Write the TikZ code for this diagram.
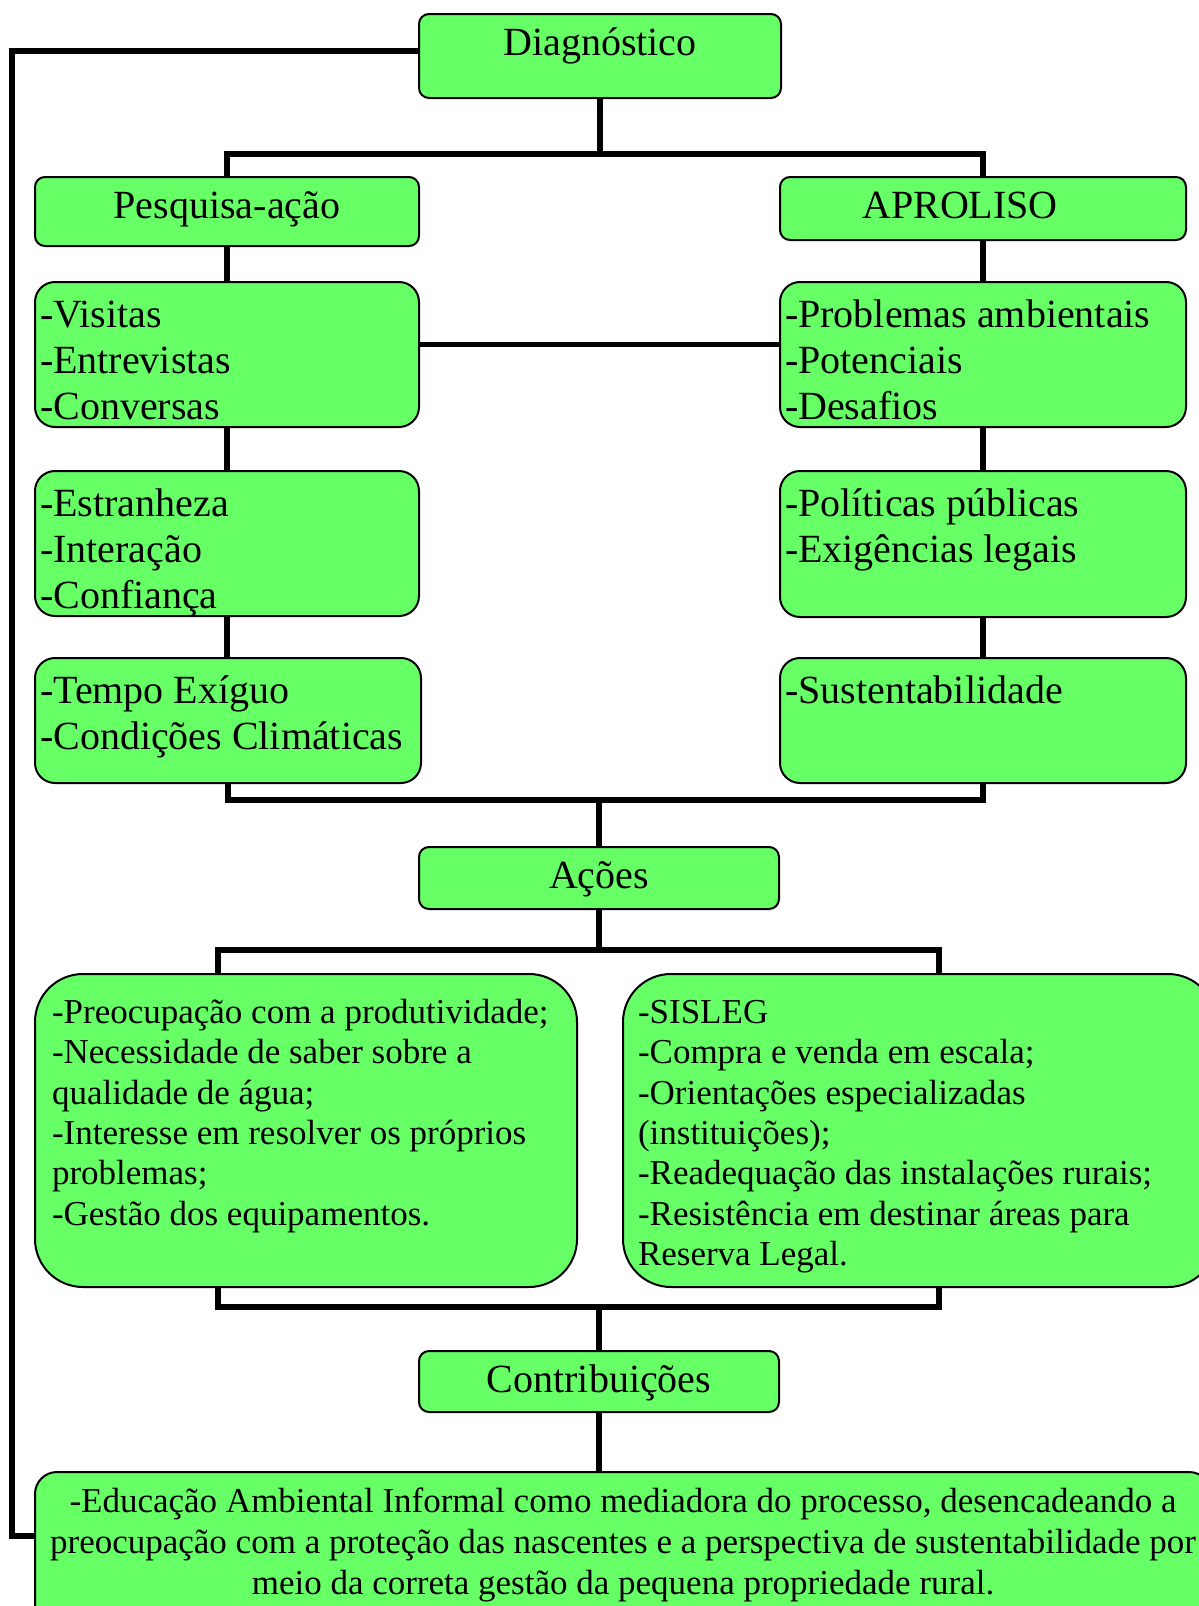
\documentclass[tikz,border=0pt]{standalone}
\usepackage{fontspec}
\setmainfont{Liberation Serif}
\usepackage{tikz}

\definecolor{verde}{RGB}{102,255,102}

% width, height, top pad, text
\newcommand{\centro}[4][4.7pt]{\parbox[c][#3][t]{#2}{\centering\vspace*{#1}\strut#4}}
% width, height, left pad, top pad, text
\newcommand{\itens}[5]{\parbox[c][#2][t]{#1}{\raggedright\leftskip=#3\relax\vspace*{#4}\strut#5}}

\begin{document}
\begin{tikzpicture}[x=0.5pt,y=-0.5pt,
                    caixa/.style={draw,fill=verde,line width=1pt,inner sep=0pt,anchor=north west},
                    titulo/.style={caixa,rounded corners=5pt,font=\fontsize{20pt}{23pt}\selectfont},
                    lista/.style={caixa,rounded corners=10pt,font=\fontsize{20pt}{23pt}\selectfont},
                    acao/.style={caixa,rounded corners=24pt,font=\fontsize{17.5pt}{20.2pt}\selectfont},
                    sintese/.style={caixa,rounded corners=11pt,font=\fontsize{17.5pt}{20.5pt}\selectfont},
                    liga/.style={line width=2.8pt}]

\useasboundingbox (0,0) rectangle (1199,1606);

\node[titulo] (diag)     at (418,13)  {\centro{181pt}{42pt}{Diagnóstico}};
\node[titulo] (pesquisa) at (34,176)  {\centro{192pt}{34.5pt}{Pesquisa-ação}};
\node[titulo] (aproliso) at (779,176) {\centro{203pt}{31.5pt}{APROLISO\hspace*{23pt}}};

% coluna da esquerda
\node[lista] (visitas)    at (34,281) {\itens{192pt}{72.5pt}{2.5pt}{6.4pt}{-Visitas\\-Entrevistas\\-Conversas}};
\node[lista] (estranheza) at (34,470) {\itens{192pt}{72.5pt}{2.5pt}{6.4pt}{-Estranheza\\-Interação\\-Confiança}};
\node[lista] (tempo)      at (34,657) {\itens{193pt}{62.5pt}{2.5pt}{6.4pt}{-Tempo Exíguo\\-Condições Climáticas}};

% coluna da direita
\node[lista] (problemas) at (779,281) {\itens{203pt}{72.5pt}{2.5pt}{6.4pt}{-Problemas ambientais\\-Potenciais\\-Desafios}};
\node[lista] (politicas) at (779,470) {\itens{203pt}{73pt}{2.5pt}{6.4pt}{-Políticas públicas\\-Exigências legais}};
\node[lista] (sust)      at (779,657) {\itens{203pt}{62.5pt}{2.5pt}{6.4pt}{-Sustentabilidade}};

\node[titulo] (acoes) at (418,846) {\centro{180pt}{31pt}{Ações}};

\node[acao] (preoc)  at (34,973)  {\itens{271pt}{156.5pt}{8.5pt}{10.5pt}{-Preocupação com a produtividade;\\-Necessidade de saber sobre a\\qualidade de água;\\-Interesse em resolver os próprios\\problemas;\\-Gestão dos equipamentos.}};
\node[acao] (sisleg) at (622,973) {\itens{296.5pt}{156.5pt}{7.5pt}{10.5pt}{-SISLEG\\-Compra e venda em escala;\\-Orientações especializadas\\(instituições);\\-Readequação das instalações rurais;\\-Resistência em destinar áreas para\\Reserva Legal.}};

\node[titulo] (contrib) at (418,1350) {\centro{180pt}{30.5pt}{Contribuições}};

\node[sintese] (final) at (34,1471) {\centro[5.65pt]{588pt}{79.5pt}{-Educação Ambiental Informal como mediadora do processo, desencadeando a\\preocupação com a proteção das nascentes e a perspectiva de sustentabilidade por\\meio da correta gestão da pequena propriedade rural.}};

\coordinate (j1) at (599,154);
\coordinate (j2) at (598,800);
\coordinate (j3) at (598,950);
\coordinate (j4) at (598,1307);
\coordinate (canto) at (12,1536);

\draw[liga] (diag.south) -- (diag.south |- j1);
\draw[liga] (pesquisa.north) |- (j1) -| (aproliso.north);
\draw[liga] (pesquisa.south) -- (pesquisa.south |- visitas.north);
\draw[liga] (visitas.south) -- (visitas.south |- estranheza.north);
\draw[liga] (estranheza.south) -- (estranheza.south |- tempo.north);
\draw[liga] (aproliso.south) -- (aproliso.south |- problemas.north);
\draw[liga] (problemas.south) -- (problemas.south |- politicas.north);
\draw[liga] (politicas.south) -- (politicas.south |- sust.north);
\draw[liga] ([yshift=5pt]visitas.east) -- ([yshift=5pt]problemas.west);
\draw[liga] (tempo.south) |- (j2) -| (sust.south);
\draw[liga] (acoes.north |- j2) -- (acoes.north);
\draw[liga] (acoes.south) -- (acoes.south |- j3);
\draw[liga] ([xshift=-44pt]preoc.north) |- (j3) -| ([xshift=9.75pt]sisleg.north);
\draw[liga] ([xshift=-44pt]preoc.south) |- (j4) -| ([xshift=9.75pt]sisleg.south);
\draw[liga] (contrib.north |- j4) -- (contrib.north);
\draw[liga] (contrib.south) -- (contrib.south |- final.north);
% retorno ao diagnostico
\draw[liga] ([yshift=2.5pt]diag.west) -| (canto) -- (canto -| final.west);
\end{tikzpicture}
\end{document}
